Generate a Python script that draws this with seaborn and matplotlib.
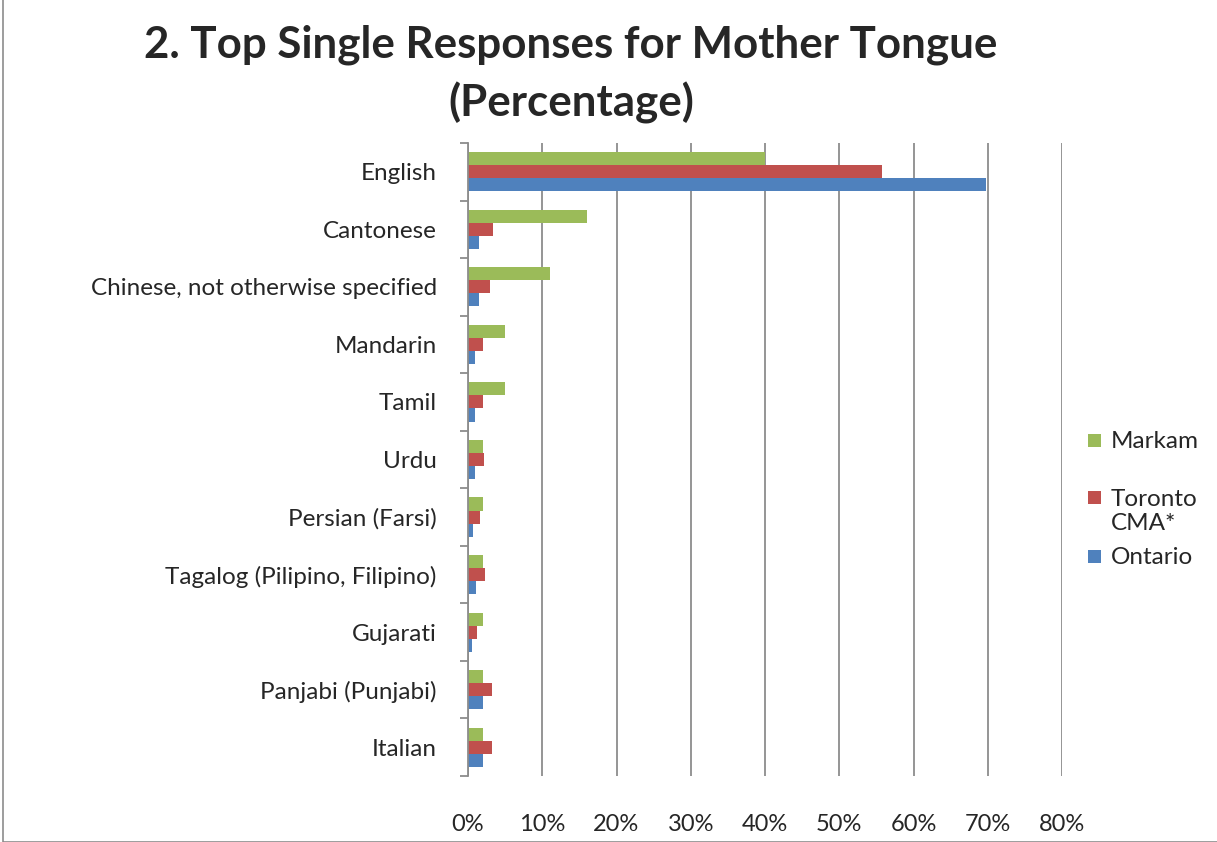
import matplotlib.pyplot as plt
import matplotlib.ticker as mticker
from matplotlib.patches import Rectangle
import seaborn as sns
import pandas as pd

languages = ['English', 'Cantonese', 'Chinese, not otherwise specified', 'Mandarin', 'Tamil',
             'Urdu', 'Persian (Farsi)', 'Tagalog (Pilipino, Filipino)', 'Gujarati',
             'Panjabi (Punjabi)', 'Italian']
markam = [40.0, 16.0, 11.0, 5.0, 5.0, 2.0, 2.0, 2.0, 2.0, 2.0, 2.0]
toronto = [55.7, 3.3, 3.0, 2.0, 2.0, 2.2, 1.6, 2.3, 1.2, 3.2, 3.2]
ontario = [69.7, 1.5, 1.5, 0.9, 0.9, 1.0, 0.7, 1.05, 0.5, 2.0, 2.0]
series = ['Markam', 'Toronto CMA*', 'Ontario']
colors = ['#9BBB59', '#C0504D', '#4F81BD']

df = pd.DataFrame({
    'language': languages * 3,
    'series': [s for s in series for _ in languages],
    'value': markam + toronto + ontario,
})

sns.set_style('white')
plt.rcParams['font.family'] = ['Lato', 'DejaVu Sans']

W, H = 1217, 842
fig = plt.figure(figsize=(W / 100, H / 100), dpi=100)
ax = fig.add_axes([468 / W, 1 - 776 / H, (1062 - 468) / W, (776 - 143) / H])

sns.barplot(data=df, y='language', x='value', hue='series', hue_order=series,
            order=languages, palette=colors, orient='h', width=0.68,
            saturation=1, linewidth=0, legend=False, ax=ax)

ax.set_xlim(0, 80)
ax.set_ylim(len(languages) - 0.5, -0.5)
ax.xaxis.set_major_locator(mticker.MultipleLocator(10))
ax.xaxis.set_major_formatter(mticker.FuncFormatter(lambda v, p: f'{v:.0f}%'))
ax.grid(axis='x', color='#8c8c8c', linewidth=1.3)
ax.set_axisbelow(True)
ax.set_xlabel('')
ax.set_ylabel('')

for s in ['top', 'right', 'bottom']:
    ax.spines[s].set_visible(False)
ax.spines['left'].set_color('#8c8c8c')
ax.spines['left'].set_linewidth(1.3)

# category boundary ticks on the y axis
ax.set_yticks([i + 0.5 for i in range(-1, len(languages))], minor=True)
ax.tick_params(axis='y', which='minor', left=True, length=6, color='#8c8c8c', width=1.3)
ax.tick_params(axis='y', which='major', left=False, labelsize=17.5, pad=19)
ax.tick_params(axis='x', which='major', bottom=False, labelsize=17, pad=24)

fig.text(571 / W, 1 - 45 / H, '2. Top Single Responses for Mother Tongue',
         ha='center', va='center', fontsize=31.6, fontweight='bold')
fig.text(571 / W, 1 - 103 / H, '(Percentage)',
         ha='center', va='center', fontsize=31.6, fontweight='bold')

# legend drawn by hand to match the original wrapped entry
legend_rows = [('Markam', 440, colors[0]), ('Toronto', 497, colors[1]), ('Ontario', 556, colors[2])]
for label, y, c in legend_rows:
    fig.patches.append(Rectangle((1088 / W, 1 - (y + 6.5) / H), 13 / W, 13 / H,
                                 transform=fig.transFigure, facecolor=c, edgecolor='none'))
    fig.text(1111 / W, 1 - (y + 2) / H, label, ha='left', va='center', fontsize=17.5)
fig.text(1111 / W, 1 - 523 / H, 'CMA*', ha='left', va='center', fontsize=17.5)

fig.patches.append(Rectangle((3 / W, 0), 1.2, 1.2, transform=fig.transFigure,
                             fill=False, edgecolor='#8c8c8c', linewidth=1.2))

fig.savefig('out.png', dpi=100)
